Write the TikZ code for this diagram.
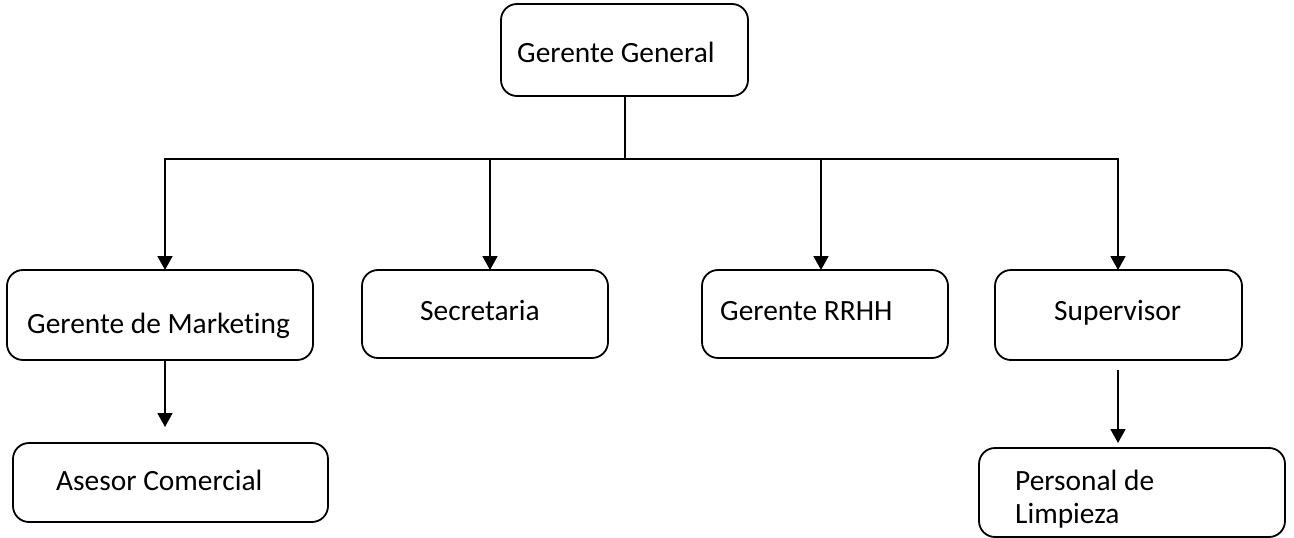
\documentclass[tikz,border=0pt]{standalone}
\usepackage{fontspec}
\setmainfont[Ligatures=NoCommon]{Carlito}
\usetikzlibrary{arrows.meta}
\begin{document}
\begin{tikzpicture}[x=1pt,y=1pt,
  box/.style={draw=black,line width=1.8pt,rounded corners=16pt,inner sep=0pt,outer sep=0pt},
  lbl/.style={anchor=base west,inner sep=0pt,font=\fontsize{29.4}{33}\selectfont},
  con/.style={draw=black,line width=1.8pt},
  arr/.style={con,-{Triangle[width=15pt,length=14pt]}}]
\useasboundingbox (0,0) rectangle (1294,-538);
% boxes
\node[box,minimum width=247pt,minimum height=92pt] (gg) at (624.5,-50) {};
\node[box,minimum width=306pt,minimum height=90pt] (mk) at (160,-315) {};
\node[box,minimum width=246pt,minimum height=88pt] (se) at (485,-314) {};
\node[box,minimum width=246pt,minimum height=88pt] (rh) at (825,-314) {};
\node[box,minimum width=247pt,minimum height=90pt] (su) at (1118.5,-315) {};
\node[box,minimum width=315pt,minimum height=79pt] (as) at (170.5,-482.5) {};
\node[box,minimum width=306pt,minimum height=89pt] (pl) at (1132,-492.5) {};
% labels
\node[lbl] (tgg) at (517,-62) {Gerente General};
\node[lbl] (tmk) at (27,-333) {Gerente de Marketing};
\node[lbl] (tse) at (420,-320) {Secretaria};
\node[lbl] (trh) at (720,-320) {Gerente RRHH};
\node[lbl] (tsu) at (1054,-320) {Supervisor};
\node[lbl] (tas) at (56,-490) {Asesor Comercial};
\node[lbl] (tpl1) at (1015,-490) {Personal de};
\node[lbl] (tpl2) at (1015,-523) {Limpieza};
% connectors
\coordinate (top) at (625,-159);
\coordinate (j1) at (165,-159);
\coordinate (j2) at (490,-159);
\coordinate (j3) at (821,-159);
\coordinate (j4) at (1118,-159);
\draw[con] (top |- gg.south) -- (top);
\draw[con,line cap=rect] (j1) -- (j4);
\draw[arr] (j1) -- (j1 |- mk.north);
\draw[arr] (j2) -- (j2 |- se.north);
\draw[arr] (j3) -- (j3 |- rh.north);
\draw[arr] (j4) -- (j4 |- su.north);
\coordinate (m1) at (165,-427);
\draw[arr] (m1 |- mk.south) -- (m1);
\coordinate (s0) at (1118,-370);
\coordinate (s1) at (1118,-443);
\draw[arr] (s0) -- (s1);
\end{tikzpicture}
\end{document}
